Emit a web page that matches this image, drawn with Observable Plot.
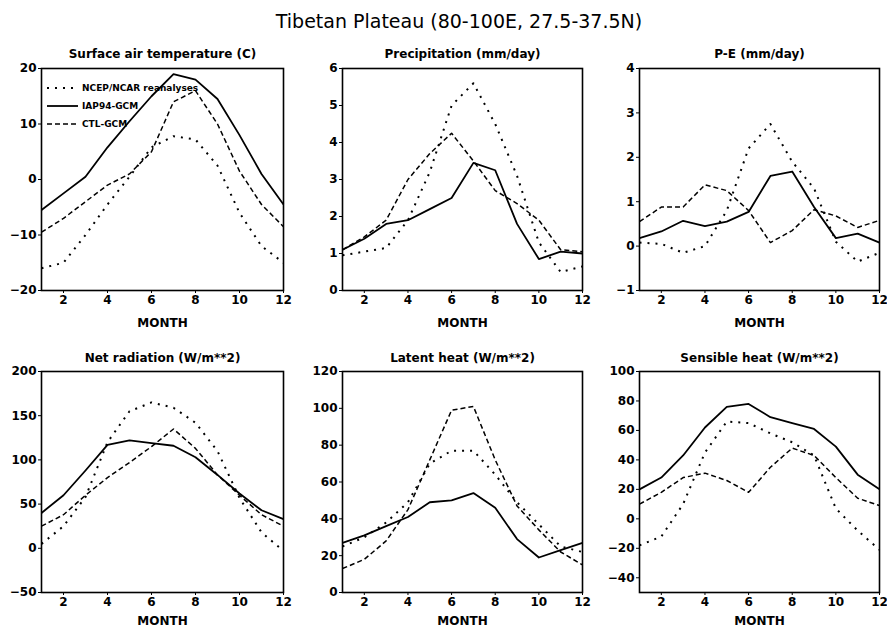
<!DOCTYPE html>
<html><head><meta charset="utf-8">
<script src="https://cdn.jsdelivr.net/npm/d3@7"></script>
<script src="https://cdn.jsdelivr.net/npm/@observablehq/plot@0.6"></script>
<style>
body{margin:0;background:#fff;}
#wrap{position:relative;width:887px;height:629px;background:#fff;overflow:hidden;}
#title{position:absolute;left:0;width:918px;top:12px;line-height:19px;text-align:center;font-family:"DejaVu Sans";font-size:19px;color:#000;white-space:nowrap;}
.panel{position:absolute;}
</style></head>
<body>
<div id="wrap"><div id="title">Tibetan Plateau (80-100E, 27.5-37.5N)</div></div>
<script>
// ---- data ----
const months = [1,2,3,4,5,6,7,8,9,10,11,12];
const seriesNames = ["NCEP/NCAR reanalyses", "IAP94-GCM", "CTL-GCM"];
const xTicks = [2,4,6,8,10,12];

const tempNCEP = [-16, -15, -10, -4.5, 0.5, 5.8, 7.8, 7.2, 2.5, -6, -12, -15];
const tempIAP  = [-5.5, -2.5, 0.5, 5.8, 10.5, 15, 19, 18, 14.5, 8, 1, -4.5];
const tempCTL  = [-9.5, -7, -4, -1, 1, 5, 14, 16, 10, 1.5, -4.5, -8.5];

const precNCEP = [0.95, 1.05, 1.15, 1.9, 3.2, 5.0, 5.6, 4.5, 3.1, 1.3, 0.5, 0.65];
const precIAP  = [1.1, 1.4, 1.8, 1.9, 2.2, 2.5, 3.45, 3.25, 1.8, 0.85, 1.05, 1.0];
const precCTL  = [1.1, 1.45, 1.9, 3.0, 3.7, 4.25, 3.5, 2.7, 2.35, 1.9, 1.1, 1.05];

const peNCEP = [0.08, 0.05, -0.15, 0.0, 0.8, 2.2, 2.75, 1.9, 1.3, 0.1, -0.35, -0.15];
const peIAP  = [0.18, 0.33, 0.57, 0.45, 0.55, 0.77, 1.58, 1.68, 0.88, 0.18, 0.28, 0.08];
const peCTL  = [0.55, 0.88, 0.88, 1.38, 1.25, 0.8, 0.08, 0.35, 0.82, 0.68, 0.42, 0.58];

const netNCEP = [5, 25, 58, 120, 155, 165, 159, 142, 110, 57, 18, -3];
const netIAP  = [40, 60, 88, 117, 122, 119, 116, 103, 83, 62, 43, 33];
const netCTL  = [25, 38, 60, 80, 97, 115, 135, 113, 83, 60, 38, 25];

const latNCEP = [25, 30, 38, 49, 70, 77, 77, 64, 49, 37, 25, 22];
const latIAP  = [27, 31, 36, 41, 49, 50, 54, 46, 29, 19, 23, 27];
const latCTL  = [13, 18, 28, 45, 72, 99, 101, 72, 47, 34, 22, 15];

const sensNCEP = [-18, -12, 10, 45, 66, 65, 58, 52, 43, 7, -8, -21];
const sensIAP  = [20, 28, 43, 62, 76, 78, 69, 65, 61, 49, 30, 20];
const sensCTL  = [10, 18, 28, 31, 26, 18, 35, 48, 43, 28, 14, 9];

const panelTitles = ["Surface air temperature (C)", "Precipitation (mm/day)", "P-E (mm/day)",
                     "Net radiation (W/m**2)", "Latent heat (W/m**2)", "Sensible heat (W/m**2)"];
const panelValues = [
  [tempNCEP, tempIAP, tempCTL], [precNCEP, precIAP, precCTL], [peNCEP, peIAP, peCTL],
  [netNCEP, netIAP, netCTL], [latNCEP, latIAP, latCTL], [sensNCEP, sensIAP, sensCTL]
];
const yDomains = [[-20,20],[0,6],[-1,4],[-50,200],[0,120],[-50,100]];
const yTicks = [[-20,-10,0,10,20],[0,1,2,3,4,5,6],[-1,0,1,2,3,4],[-50,0,50,100,150,200],
                [0,20,40,60,80,100,120],[-40,-20,0,20,40,60,80,100]];

// ---- layout / styles ----
const cols = [
  {left: 0,   ml: 41, fw: 242, mr: 6},
  {left: 295, ml: 47, fw: 240, mr: 6},
  {left: 594, ml: 45, fw: 240, mr: 8}
];
const rowsL = [
  {top: 40,  mt: 28, fh: 222, mb: 40, labelDy: 36, titleDy: -11},
  {top: 330, mt: 41, fh: 221, mb: 37, labelDy: 32, titleDy: -10}
];
const seriesStyle = [
  {strokeWidth: 2,   strokeDasharray: "2,6"},
  {strokeWidth: 1.8, strokeDasharray: null},
  {strokeWidth: 1.5, strokeDasharray: "5,3"}
];
const FONT = "DejaVu Sans";
const fmt = d => (d < 0 ? "\u2212" : "") + Math.abs(d);

function legendMark(index, scales, values, dims) {
  const g = d3.create("svg:g");
  const x0 = dims.marginLeft, y0 = dims.marginTop;
  seriesNames.forEach((name, k) => {
    const y = y0 + 20 + 18 * k;
    const st = seriesStyle[k];
    const l = g.append("line").attr("x1", x0 + 6).attr("x2", x0 + 37).attr("y1", y).attr("y2", y)
      .attr("stroke", "#000").attr("stroke-width", st.strokeWidth);
    if (st.strokeDasharray) l.attr("stroke-dasharray", st.strokeDasharray);
    g.append("text").attr("x", x0 + 41).attr("y", y).attr("dy", "0.35em")
      .attr("text-anchor", "start")
      .attr("font-family", FONT).attr("font-weight", "bold").attr("font-size", 9)
      .attr("fill", "#000").text(name);
  });
  return g.node();
}

const wrap = document.getElementById("wrap");
panelTitles.forEach((title, p) => {
  const c = cols[p % 3], r = rowsL[Math.floor(p / 3)];
  const table = [];
  seriesNames.forEach((s, k) => months.forEach((m, i) => table.push({month: m, value: panelValues[p][k][i], series: k})));
  const marks = seriesNames.map((s, k) => Plot.line(table.filter(d => d.series === k), {
    x: "month", y: "value", stroke: "#000",
    strokeWidth: seriesStyle[k].strokeWidth,
    strokeDasharray: seriesStyle[k].strokeDasharray || undefined,
    strokeLinecap: "butt", strokeLinejoin: "round"
  }));
  marks.push(Plot.axisX({ticks: xTicks, tickSize: 3, tickPadding: 2, label: null, fontWeight: "bold", tickFormat: fmt}));
  marks.push(Plot.axisY({ticks: yTicks[p], tickSize: 3, tickPadding: 2, label: null, fontWeight: "bold", tickFormat: fmt}));
  marks.push(Plot.frame({stroke: "#000", strokeWidth: 1.6}));
  marks.push(Plot.text([title], {text: d => d, frameAnchor: "top", lineAnchor: "bottom", dy: r.titleDy,
    fontSize: 12, fontWeight: "bold", fill: "#000"}));
  marks.push(Plot.text(["MONTH"], {text: d => d, frameAnchor: "bottom", lineAnchor: "bottom", dy: r.labelDy,
    fontSize: 12, fontWeight: "bold", fill: "#000"}));
  if (p === 0) marks.push(legendMark);
  const svg = Plot.plot({
    width: c.ml + c.fw + c.mr, height: r.mt + r.fh + r.mb,
    marginLeft: c.ml, marginRight: c.mr, marginTop: r.mt, marginBottom: r.mb,
    style: {fontFamily: FONT, fontSize: "12px", fontWeight: "bold", color: "#000", background: "transparent", overflow: "visible"},
    x: {domain: [1, 12]},
    y: {domain: yDomains[p]},
    marks
  });
  svg.classList.add("panel");
  svg.style.left = c.left + "px";
  svg.style.top = r.top + "px";
  svg.style.position = "absolute";
  wrap.appendChild(svg);
});
</script>
</body></html>
